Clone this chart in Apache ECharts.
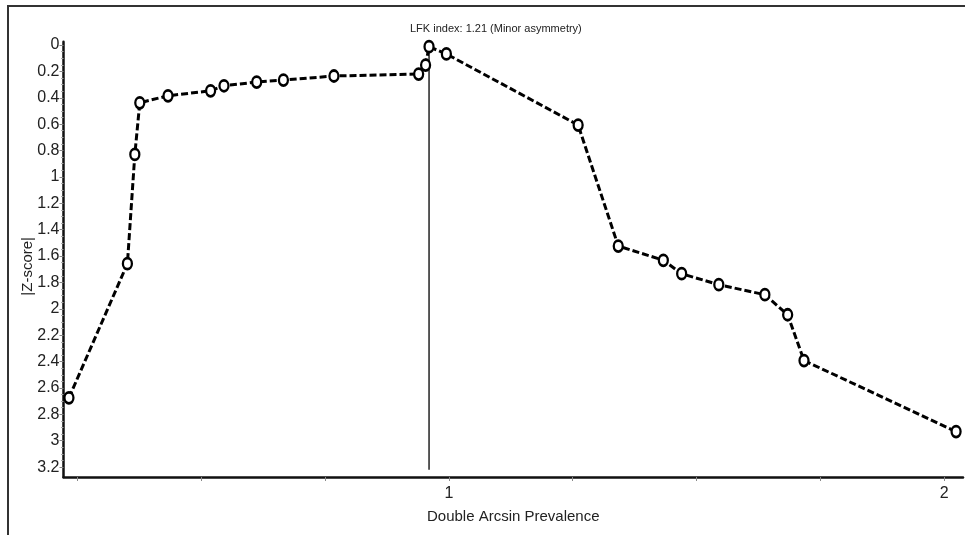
<!DOCTYPE html>
<html><head><meta charset="utf-8">
<script src="https://cdn.jsdelivr.net/npm/echarts@6/dist/echarts.min.js"></script>
<style>html,body{margin:0;padding:0;background:#fff}#c{width:965px;height:535px}</style>
</head><body><div id="c"></div>
<script>
// Doi plot data: double arcsin prevalence (x) vs |Z-score| (y)
const xValues = [0.233, 0.351, 0.366, 0.376, 0.433, 0.519, 0.546, 0.612, 0.666, 0.768, 0.939, 0.953, 0.960, 0.995, 1.261, 1.342, 1.433, 1.470, 1.545, 1.638, 1.684, 1.717, 2.024];
const zValues = [2.675, 1.658, 0.830, 0.438, 0.385, 0.347, 0.309, 0.281, 0.266, 0.235, 0.220, 0.152, 0.013, 0.068, 0.607, 1.524, 1.632, 1.734, 1.817, 1.893, 2.045, 2.392, 2.931];
const midlineX = [0.96, 0.96];
const midlineZ = [0, 3.22];
const yTickLabels = [0, 0.2, 0.4, 0.6, 0.8, 1, 1.2, 1.4, 1.6, 1.8, 2, 2.2, 2.4, 2.6, 2.8, 3, 3.2];
const xTicks = [0.25, 0.5, 0.75, 1, 1.25, 1.5, 1.75, 2];
const xTickLabels = [1, 2];
const titleText = 'LFK index: 1.21 (Minor asymmetry)';
const xName = 'Double Arcsin Prevalence';
const yName = '|Z-score|';

const yMinor = [];
for (let i = 0; i <= 64; i++) { if (i % 4 !== 0) yMinor.push(+(i * 0.05).toFixed(2)); }

const FONT = '"Liberation Sans Narrow", "Arial Narrow", "Liberation Sans", sans-serif';
const chart = echarts.init(document.getElementById('c'), null, {renderer: 'canvas'});
const pts = xValues.map((x, i) => [x, zValues[i]]);
const mid = midlineX.map((x, i) => [x, midlineZ[i]]);

chart.setOption({
  animation: false,
  backgroundColor: '#fff',
  title: {
    text: titleText, left: 405, top: 18,
    textStyle: {fontFamily: FONT, fontSize: 11, fontWeight: 'normal', color: '#222'}
  },
  graphic: [{
    type: 'rect', shape: {x: 8, y: 6, width: 1100, height: 700},
    style: {fill: 'none', stroke: '#333', lineWidth: 2}, silent: true
  }],
  grid: {left: 63.5, right: 2, top: 41.7, bottom: 58, containLabel: false},
  xAxis: {
    type: 'value', min: 0.222, max: 2.038,
    name: xName, nameLocation: 'middle', nameGap: 32, nameMoveOverlap: false,
    nameTextStyle: {fontFamily: FONT, fontSize: 15, color: '#222'},
    axisLine: {show: true, onZero: false, lineStyle: {color: '#111', width: 2.5}},
    axisTick: {show: true, customValues: xTicks, length: 4, lineStyle: {color: '#888', width: 1}},
    axisLabel: {customValues: xTickLabels, margin: 9, fontFamily: FONT, fontSize: 16, color: '#222'},
    splitLine: {show: false}
  },
  yAxis: [{
    type: 'value', inverse: true, min: -0.025, max: 3.275,
    name: yName, nameLocation: 'middle', nameGap: 28, nameRotate: 90, nameMoveOverlap: false,
    nameTextStyle: {fontFamily: FONT, fontSize: 15, color: '#222', padding: [0, 14, 0, 0]},
    axisLine: {show: true, onZero: false, lineStyle: {color: '#111', width: 2.5}},
    axisTick: {show: true, customValues: yTickLabels, length: 4, lineStyle: {color: '#888', width: 1}},
    axisLabel: {customValues: yTickLabels, margin: 4, fontFamily: FONT, fontSize: 16, color: '#222'},
    splitLine: {show: false}
  }, {
    type: 'value', inverse: true, min: -0.025, max: 3.275, position: 'left',
    axisLine: {show: false},
    axisTick: {show: true, customValues: yMinor, length: 2.5, lineStyle: {color: '#aaa', width: 1}},
    axisLabel: {show: false},
    splitLine: {show: false}
  }],
  series: [{
    type: 'line', data: mid, symbol: 'none', z: 1,
    lineStyle: {color: '#222', width: 1.5, type: 'solid'}
  }, {
    type: 'line', data: pts, z: 3,
    symbol: 'circle', symbolSize: [9, 11],
    itemStyle: {color: '#fff', borderColor: '#000', borderWidth: 2.5},
    lineStyle: {color: '#000', width: 3, type: [7, 3]}
  }]
});
</script></body></html>
